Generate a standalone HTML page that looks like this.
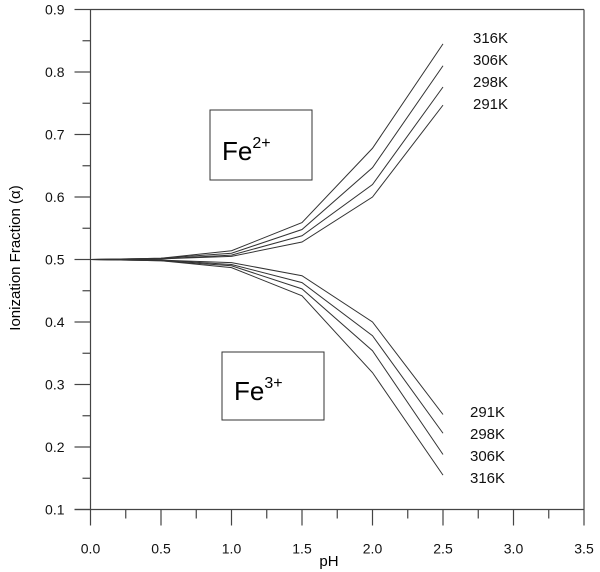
<!DOCTYPE html>
<html><head><meta charset="utf-8"><style>
body{margin:0;background:#fff;}
svg{display:block;font-family:"Liberation Sans",Arial,sans-serif;}
</style></head><body>
<svg id="chart" width="600" height="572" viewBox="0 0 600 572">
<g id="axes"></g>
<g id="series"></g>
<g id="labels"></g>
<rect x="210" y="110" width="102" height="70" fill="#fff" stroke="#333"/>
<text x="222" y="160" font-size="26">Fe<tspan font-size="16" dy="-12">2+</tspan></text>
<rect x="222" y="352" width="102" height="68" fill="#fff" stroke="#333"/>
<text x="234" y="400" font-size="26">Fe<tspan font-size="16" dy="-12">3+</tspan></text>
<text x="329" y="566" font-size="15" text-anchor="middle">pH</text>
<text transform="translate(20,258) rotate(-90)" font-size="15" text-anchor="middle">Ionization Fraction (α)</text>
</svg>
<script>
var phValues=[0,0.5,1.0,1.5,2.0,2.5];
var upperNames=["316K","306K","298K","291K"];
var upper316=[0.5,0.502,0.514,0.559,0.678,0.845];
var upper306=[0.5,0.502,0.510,0.548,0.647,0.810];
var upper298=[0.5,0.501,0.507,0.538,0.620,0.776];
var upper291=[0.5,0.501,0.505,0.528,0.600,0.747];
var lowerNames=["291K","298K","306K","316K"];
var lower291=[0.5,0.499,0.495,0.474,0.400,0.252];
var lower298=[0.5,0.499,0.492,0.463,0.378,0.222];
var lower306=[0.5,0.498,0.490,0.453,0.354,0.188];
var lower316=[0.5,0.498,0.487,0.442,0.319,0.155];
var xTicks=["0.0","0.5","1.0","1.5","2.0","2.5","3.0","3.5"];
var yTicks=["0.1","0.2","0.3","0.4","0.5","0.6","0.7","0.8","0.9"];
(function(){
var X0=90.5,X1=584,Y0=509.5,Y1=9.5;
function xs(v){return X0+v/3.5*(X1-X0);}
function ys(v){return Y0-(v-0.1)/0.8*(Y0-Y1);}
var NS="http://www.w3.org/2000/svg";
function mk(t,a,p){var e=document.createElementNS(NS,t);for(var k in a)e.setAttribute(k,a[k]);p.appendChild(e);return e;}
var ax=document.getElementById('axes');
var l=mk('line',{x1:X0,y1:Y1,x2:X1,y2:Y1,stroke:'#444','stroke-width':1.2},ax);


l=mk('line',{x1:X1,y1:Y1,x2:X1,y2:Y0,stroke:'#444','stroke-width':1.2},ax);


l=mk('line',{x1:X0,y1:Y1,x2:X0,y2:Y0,stroke:'#444','stroke-width':1.2},ax);


l=mk('line',{x1:X0-16,y1:Y0,x2:X1,y2:Y0,stroke:'#444','stroke-width':1.2},ax);


xTicks.forEach(function(t,i){var v=parseFloat(t);var x=xs(v);
 var tk=mk('line',{x1:x,y1:Y0,x2:x,y2:Y0+16,stroke:'#444','stroke-width':1.2},ax);
 
 
 if(i<xTicks.length-1){var m=mk('line',{x1:xs(v+0.25),y1:Y0,x2:xs(v+0.25),y2:Y0+9,stroke:'#444','stroke-width':1.2},ax);
 
 }
 var tx=mk('text',{x:x,y:Y0+44,'font-size':14,'text-anchor':'middle',fill:'#111'},ax);tx.textContent=t;
 
 
});
yTicks.forEach(function(t,i){var v=parseFloat(t);var y=ys(v);
 var tk=mk('line',{x1:X0-16,y1:y,x2:X0,y2:y,stroke:'#444','stroke-width':1.2},ax);
 
 
 if(i<yTicks.length-1){var m=mk('line',{x1:X0-8,y1:ys(v+0.05),x2:X0,y2:ys(v+0.05),stroke:'#444','stroke-width':1.2},ax);
 
 }
 var tx=mk('text',{x:X0-26,y:y+5,'font-size':14,'text-anchor':'end',fill:'#111'},ax);tx.textContent=t;
 
 
});
var sg=document.getElementById('series');
var all=[["upper-316k",upper316],["upper-306k",upper306],["upper-298k",upper298],["upper-291k",upper291],["lower-291k",lower291],["lower-298k",lower298],["lower-306k",lower306],["lower-316k",lower316]];
all.forEach(function(s){
 var arr=s[1];
 var pts=arr.map(function(v,i){return xs(phValues[i])+','+ys(v);}).join(' ');
 var p=mk('polyline',{points:pts,fill:'none',stroke:'#333','stroke-width':1},sg);
 
 
});
var lg=document.getElementById('labels');
upperNames.forEach(function(n,i){var t=mk('text',{x:473,y:43+i*22,'font-size':15,fill:'#111'},lg);t.textContent=n;
 
 });
lowerNames.forEach(function(n,i){var t=mk('text',{x:470,y:417+i*22,'font-size':15,fill:'#111'},lg);t.textContent=n;
 
 });
})();
</script>
</body></html>
